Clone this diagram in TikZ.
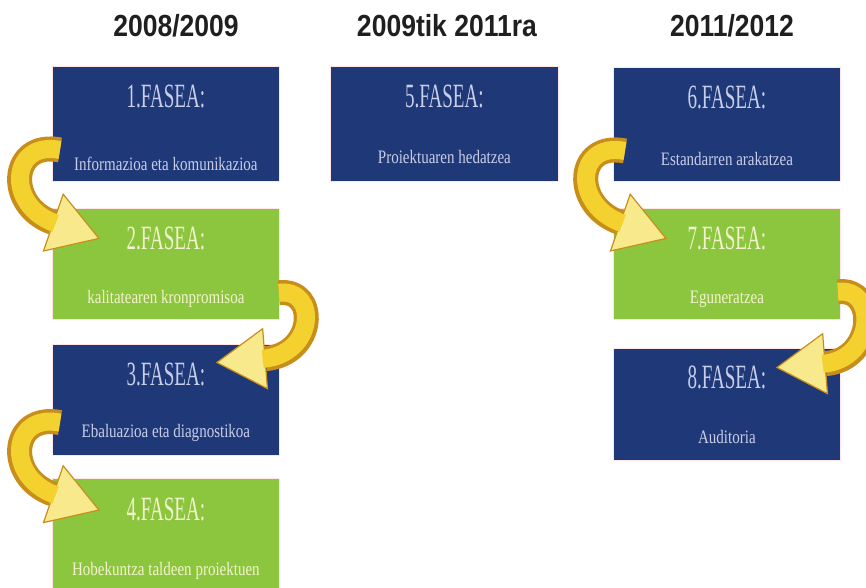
\documentclass[tikz,border=0pt]{standalone}
\usepackage{fontspec}
\usetikzlibrary{positioning, arrows.meta}

\newfontfamily\yearfont[FakeStretch=0.87]{Liberation Sans}
\newfontfamily\phasefont[FakeStretch=0.56]{Liberation Serif}
\newfontfamily\phasetextfont[FakeStretch=0.79]{Liberation Serif}

\definecolor{faseblue}{RGB}{30,56,120}
\definecolor{fasegreen}{RGB}{140,198,63}
\definecolor{textblue}{RGB}{200,206,232}
\definecolor{textgreen}{RGB}{244,242,205}
\definecolor{golddark}{RGB}{200,142,28}
\definecolor{goldmid}{RGB}{243,210,48}
\definecolor{goldhead}{RGB}{248,234,140}

\begin{document}
\begin{tikzpicture}[x=1pt, y=1pt]
    % Styles
    \tikzset{
        phase_box/.style={rectangle, draw=red!10, line width=0.8pt, minimum width=227pt, minimum height=114pt, inner sep=0pt},
        phase_blue/.style={phase_box, fill=faseblue},
        phase_green/.style={phase_box, fill=fasegreen},
        phase_title/.style={anchor=base, inner sep=0pt, font=\phasefont\fontsize{34}{40}\selectfont},
        phase_text/.style={anchor=base, inner sep=0pt, font=\phasetextfont\fontsize{19}{23}\selectfont},
        year_label/.style={anchor=base, inner sep=0pt, font=\yearfont\bfseries\fontsize{30.5}{36}\selectfont, text=black!88},
        gold_arrow/.style={line width=25pt, draw=golddark, -{Triangle[length=50pt, width=62pt, line width=1.2pt, fill=goldhead]}, postaction={draw=goldmid, line width=18pt, shorten >=47pt, arrows=-}}
    }

    \useasboundingbox (0,0) rectangle (866,-588);

    % --- Years ---
    \node[year_label] (year1) at (176,-37) {2008/2009};
    \node[year_label] (year2) at (447,-37) {2009tik 2011ra};
    \node[year_label] (year3) at (732,-37) {2011/2012};

    % --- Phase boxes ---

    % Left column
    \node[phase_blue, anchor=north west, minimum height=115pt] (fase1) at (52,-66) {};
    \node[phase_green, below=26pt of fase1, minimum height=111pt] (fase2) {};
    \node[phase_blue, below=24pt of fase2, minimum height=111pt] (fase3) {};
    \node[phase_green, below=23pt of fase3, minimum height=120pt] (fase4) {};

    % Middle column
    \node[phase_blue, anchor=north west, minimum width=228pt, minimum height=115pt] (fase5) at (330,-66) {};

    % Right column
    \node[phase_blue, anchor=north west] (fase6) at (613,-67) {};
    \node[phase_green, below=26pt of fase6, minimum height=111pt] (fase7) {};
    \node[phase_blue, below=28pt of fase7, minimum height=112pt] (fase8) {};

    % --- Texts ---
    \node[phase_title, text=textblue] (title1) at ([yshift=-42pt]fase1.north) {1.FASEA:};
    \node[phase_text, text=textblue] (text1) at ([yshift=-105pt]fase1.north) {Informazioa eta komunikazioa};

    \node[phase_title, text=textgreen] (title2) at ([yshift=-42pt]fase2.north) {2.FASEA:};
    \node[phase_text, text=textgreen] (text2) at ([yshift=-96pt]fase2.north) {kalitatearen kronpromisoa};

    \node[phase_title, text=textblue] (title3) at ([yshift=-42pt]fase3.north) {3.FASEA:};
    \node[phase_text, text=textblue] (text3) at ([yshift=-94pt]fase3.north) {Ebaluazioa eta diagnostikoa};

    \node[phase_title, text=textgreen] (title4) at ([yshift=-42pt]fase4.north) {4.FASEA:};
    \node[phase_text, text=textgreen] (text4) at ([yshift=-97pt]fase4.north) {Hobekuntza taldeen proiektuen};

    \node[phase_title, text=textblue] (title5) at ([yshift=-42pt]fase5.north) {5.FASEA:};
    \node[phase_text, text=textblue] (text5) at ([yshift=-98pt]fase5.north) {Proiektuaren hedatzea};

    \node[phase_title, text=textblue] (title6) at ([yshift=-42pt]fase6.north) {6.FASEA:};
    \node[phase_text, text=textblue] (text6) at ([yshift=-98pt]fase6.north) {Estandarren arakatzea};

    \node[phase_title, text=textgreen] (title7) at ([yshift=-42pt]fase7.north) {7.FASEA:};
    \node[phase_text, text=textgreen] (text7) at ([yshift=-96pt]fase7.north) {Eguneratzea};

    \node[phase_title, text=textblue] (title8) at ([yshift=-41pt]fase8.north) {8.FASEA:};
    \node[phase_text, text=textblue] (text8) at ([yshift=-96pt]fase8.north) {Auditoria};

    % --- Gold arrows ---

    % Left side: 1 -> 2, 3 -> 4, 6 -> 7
    \draw[gold_arrow] ([shift={(8,-84)}]fase1.north west) .. controls +(-50,10) and +(-95,33) .. ([shift={(48,-31)}]fase2.north west);
    \draw[gold_arrow] ([shift={(8,-79)}]fase3.north west) .. controls +(-50,10) and +(-95,33) .. ([shift={(48,-32)}]fase4.north west);
    \draw[gold_arrow] ([shift={(12,-84)}]fase6.north west) .. controls +(-50,10) and +(-95,33) .. ([shift={(54,-31)}]fase7.north west);

    % Right side: 2 -> 3, 7 -> 8
    \draw[gold_arrow] ([shift={(-1,-85)}]fase2.north east) .. controls +(40,5) and +(100,8) .. ([shift={(-64,-19)}]fase3.north east);
    \draw[gold_arrow] ([shift={(-3,-84)}]fase7.north east) .. controls +(40,5) and +(100,8) .. ([shift={(-65,-20)}]fase8.north east);

\end{tikzpicture}
\end{document}
